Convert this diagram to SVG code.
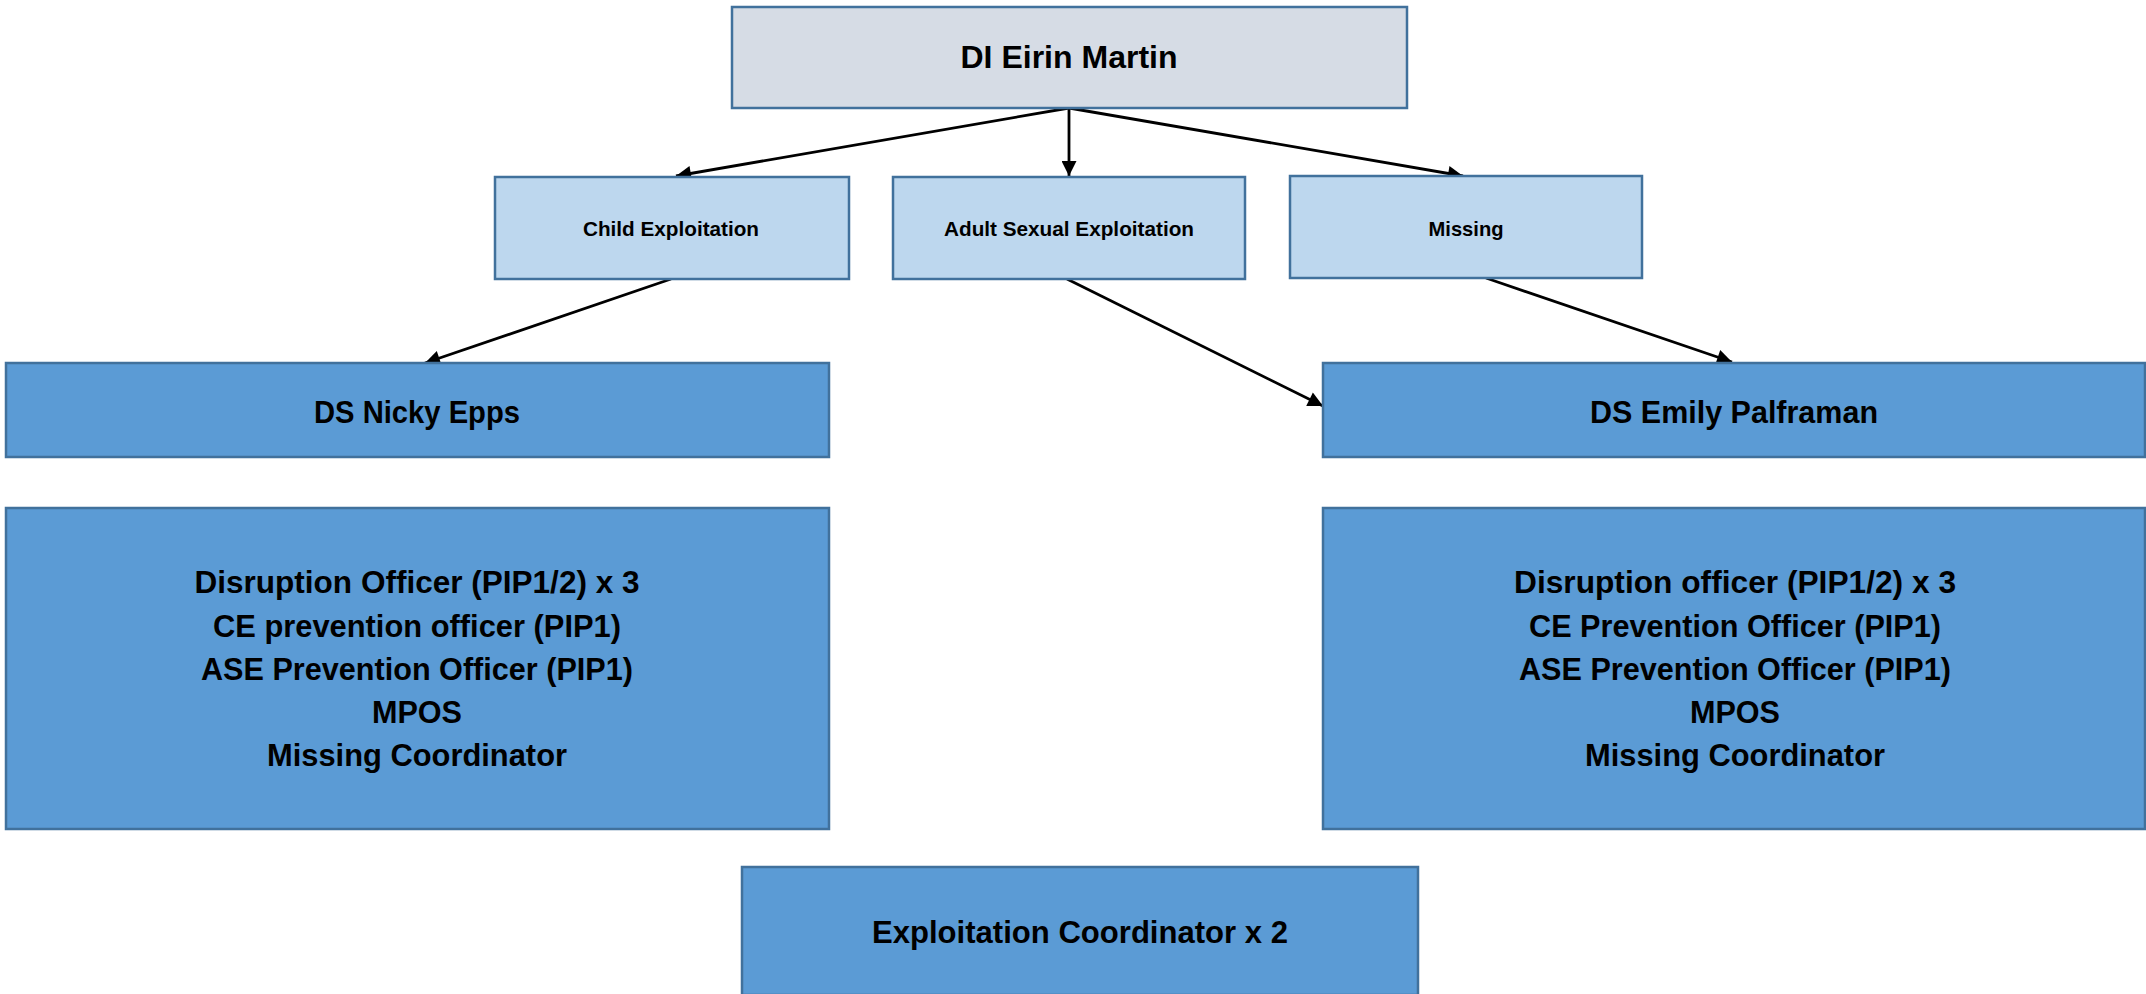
<svg xmlns="http://www.w3.org/2000/svg" width="2146" height="994" viewBox="0 0 2146 994">
  <style>
    .box { stroke: #41719C; stroke-width: 2.5; }
    .top { fill: #D6DCE5; }
    .unit { fill: #BDD7EE; }
    .team { fill: #5B9BD5; }
    text { font-family: "Liberation Sans", Arial, sans-serif; font-weight: bold; fill: #000; text-anchor: middle; }
    .big { font-size: 32px; }
    .small { font-size: 21px; }
    .edge { stroke: #000; stroke-width: 2.8; fill: none; marker-end: url(#arrow); }
  </style>
  <defs>
    <marker id="arrow" viewBox="0 0 10 10" refX="10" refY="5" markerWidth="19" markerHeight="15" markerUnits="userSpaceOnUse" orient="auto">
      <path d="M0,0 L10,5 L0,10 z" fill="#000"/>
    </marker>
  </defs>
  <rect width="2146" height="994" fill="#fff"/>

  <g id="connectors">
    <line class="edge" x1="1069" y1="108" x2="676" y2="176"/>
    <line class="edge" x1="1069" y1="108" x2="1069" y2="176"/>
    <line class="edge" x1="1069" y1="108" x2="1463" y2="176"/>
    <line class="edge" x1="671" y1="279" x2="425" y2="363"/>
    <line class="edge" x1="1067" y1="279" x2="1323" y2="406"/>
    <line class="edge" x1="1486" y1="278" x2="1732" y2="362"/>
  </g>

  <g id="di-eirin-martin">
    <rect class="box top" x="732" y="7" width="675" height="101"/>
    <text class="big" x="1069" y="68" textLength="217" lengthAdjust="spacingAndGlyphs">DI Eirin Martin</text>
  </g>

  <g id="child-exploitation">
    <rect class="box unit" x="495" y="177" width="354" height="102"/>
    <text class="small" x="671" y="236" textLength="176" lengthAdjust="spacingAndGlyphs">Child Exploitation</text>
  </g>

  <g id="adult-sexual-exploitation">
    <rect class="box unit" x="893" y="177" width="352" height="102"/>
    <text class="small" x="1069" y="236" textLength="250" lengthAdjust="spacingAndGlyphs">Adult Sexual Exploitation</text>
  </g>

  <g id="missing">
    <rect class="box unit" x="1290" y="176" width="352" height="102"/>
    <text class="small" x="1466" y="236" textLength="75" lengthAdjust="spacingAndGlyphs">Missing</text>
  </g>

  <g id="ds-nicky-epps">
    <rect class="box team" x="6" y="363" width="823" height="94"/>
    <text class="big" x="417" y="423" textLength="206" lengthAdjust="spacingAndGlyphs">DS Nicky Epps</text>
  </g>

  <g id="ds-emily-palframan">
    <rect class="box team" x="1323" y="363" width="822" height="94"/>
    <text class="big" x="1734" y="423" textLength="288" lengthAdjust="spacingAndGlyphs">DS Emily Palframan</text>
  </g>

  <g id="team-left">
    <rect class="box team" x="6" y="508" width="823" height="321"/>
    <text class="big" x="417" y="593" textLength="445" lengthAdjust="spacingAndGlyphs">Disruption Officer (PIP1/2) x 3</text>
    <text class="big" x="417" y="637" textLength="408" lengthAdjust="spacingAndGlyphs">CE prevention officer (PIP1)</text>
    <text class="big" x="417" y="680" textLength="432" lengthAdjust="spacingAndGlyphs">ASE Prevention Officer (PIP1)</text>
    <text class="big" x="417" y="723" textLength="90" lengthAdjust="spacingAndGlyphs">MPOS</text>
    <text class="big" x="417" y="766" textLength="300" lengthAdjust="spacingAndGlyphs">Missing Coordinator</text>
  </g>

  <g id="team-right">
    <rect class="box team" x="1323" y="508" width="822" height="321"/>
    <text class="big" x="1735" y="593" textLength="442" lengthAdjust="spacingAndGlyphs">Disruption officer (PIP1/2) x 3</text>
    <text class="big" x="1735" y="637" textLength="412" lengthAdjust="spacingAndGlyphs">CE Prevention Officer (PIP1)</text>
    <text class="big" x="1735" y="680" textLength="432" lengthAdjust="spacingAndGlyphs">ASE Prevention Officer (PIP1)</text>
    <text class="big" x="1735" y="723" textLength="90" lengthAdjust="spacingAndGlyphs">MPOS</text>
    <text class="big" x="1735" y="766" textLength="300" lengthAdjust="spacingAndGlyphs">Missing Coordinator</text>
  </g>

  <g id="exploitation-coordinator">
    <rect class="box team" x="742" y="867" width="676" height="128"/>
    <text class="big" x="1080" y="943" textLength="416" lengthAdjust="spacingAndGlyphs">Exploitation Coordinator x 2</text>
  </g>
</svg>
